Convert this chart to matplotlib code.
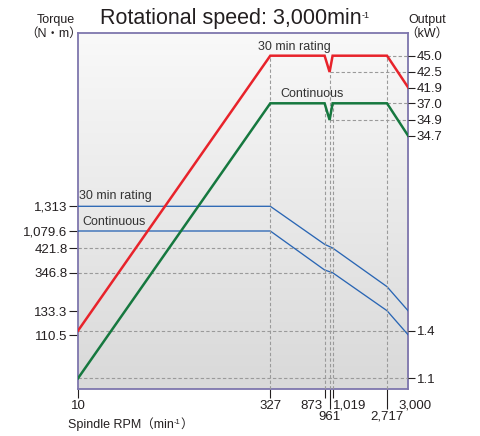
import numpy as np
import matplotlib
matplotlib.use("Agg")
import matplotlib.pyplot as plt
from matplotlib.transforms import ScaledTranslation

plt.rcParams['font.family'] = ['Liberation Sans', 'Noto Sans CJK JP', 'DejaVu Sans']

# ---- data ----
rpm_major = [10, 327, 873, 1019, 3000]
rpm_major_labels = ['10', '327', '873', '1,019', '3,000']
rpm_minor = [961, 2717]
rpm_minor_labels = ['961', '2,717']

out_rpm = [10, 327, 873, 961, 1019, 2717, 3000]
out_30min = [1.4, 45.0, 45.0, 42.5, 45.0, 45.0, 41.9]
out_cont = [1.1, 37.0, 37.0, 34.9, 37.0, 37.0, 34.7]

trq_rpm = [10, 327, 873, 1019, 2717, 3000]
trq_30min = [1313, 1313, 565, 421.8, 269, 133.3]
trq_cont = [1079.6, 1079.6, 355, 346.8, 135, 110.5]

trq_ticks = [1313, 1079.6, 421.8, 346.8, 133.3, 110.5]
trq_labels = ['1,313', '1,079.6', '421.8', '346.8', '133.3', '110.5']
out_ticks = [45.0, 42.5, 41.9, 37.0, 34.9, 34.7, 1.4, 1.1]
out_labels = ['45.0', '42.5', '41.9', '37.0', '34.9', '34.7', '1.4', '1.1']

# schematic (non-uniform) axis layouts of the original drawing: value -> pixel offset
x_anchor_val = [10, 327, 873, 961, 1019, 2717, 3000]
x_anchor_px = [0, 192.3, 246.6, 251.6, 254.6, 309.0, 330.3]
trq_anchor_val = [100, 110.5, 133.3, 346.8, 421.8, 1079.6, 1313, 2000]
trq_anchor_px = [0, 54.3, 78.3, 116.6, 141.3, 158.3, 183.0, 356]
out_anchor_val = [1.0, 1.1, 1.4, 34.7, 34.9, 37.0, 41.9, 42.5, 45.0, 50.0]
out_anchor_px = [0, 11.0, 58.6, 253.3, 269.3, 286.0, 301.6, 317.3, 333.6, 356]


def interp_scale(vals, px):
    vals = np.asarray(vals, float)
    px = np.asarray(px, float)
    return (lambda v: np.interp(v, vals, px), lambda p: np.interp(p, px, vals))


RED = '#e8232b'
GREEN = '#16783f'
BLUE = '#2a66b4'
FRAME = '#7e76ad'
GRID = '#9a9a9a'
TXT = '#231f20'
W, H = 481, 436

fig = plt.figure(figsize=(W / 100, H / 100), dpi=100)
rect = [78 / W, (H - 389.3) / H, 330.3 / W, 356 / H]

# background gradient
bg = fig.add_axes(rect, zorder=0)
grad = np.linspace(0, 1, 256).reshape(-1, 1)
bg.imshow(grad, aspect='auto', cmap=matplotlib.colors.LinearSegmentedColormap.from_list(
    'g', ['#f9f9f9', '#d9d9d9']), extent=[0, 1, 1, 0])
bg.axis('off')

ax = fig.add_axes(rect, zorder=1)
ax.patch.set_visible(False)
ax.set_xscale('function', functions=interp_scale(x_anchor_val, x_anchor_px))
ax.set_yscale('function', functions=interp_scale(trq_anchor_val, trq_anchor_px))
ax.set_xlim(10, 3000)
ax.set_ylim(100, 2000)

ax2 = ax.twinx()
ax2.set_yscale('function', functions=interp_scale(out_anchor_val, out_anchor_px))
ax2.set_ylim(1.0, 50.0)
ax2.set_xlim(10, 3000)

dash = dict(color=GRID, lw=0.8, ls=(0, (3, 2)), zorder=1)

# vertical guide lines
for r, lvl in zip([327, 873, 961, 1019, 2717], [45.0, 37.0, 42.5, 37.0, 45.0]):
    ax2.plot([r, r], [1.0, lvl], **dash)
# horizontal guide lines (output side)
for lvl, start in zip([45.0, 42.5, 37.0, 34.9, 1.4, 1.1], [2717, 961, 2717, 961, 10, 10]):
    ax2.plot([start, 3000], [lvl, lvl], **dash)
# horizontal guide lines (torque side)
for lvl in [421.8, 346.8]:
    ax.plot([10, 1019], [lvl, lvl], **dash)

ax.plot(trq_rpm, trq_30min, color=BLUE, lw=0.95, zorder=3)
ax.plot(trq_rpm, trq_cont, color=BLUE, lw=0.95, zorder=3)
ax2.plot(out_rpm, out_30min, color=RED, lw=1.8, zorder=4, solid_joinstyle='miter')
ax2.plot(out_rpm, out_cont, color=GREEN, lw=1.8, zorder=4, solid_joinstyle='miter')

for s in ax.spines.values():
    s.set_color(FRAME)
    s.set_linewidth(1.3)
for s in ax2.spines.values():
    s.set_visible(False)

# ticks
ax.set_yticks(trq_ticks, trq_labels)
ax.yaxis.set_minor_locator(matplotlib.ticker.NullLocator())
ax2.set_yticks(out_ticks, out_labels)
ax2.yaxis.set_minor_locator(matplotlib.ticker.NullLocator())
ax.set_xticks(rpm_major, rpm_major_labels)
ax.set_xticks(rpm_minor, rpm_minor_labels, minor=True)

ax.tick_params(axis='y', direction='out', length=6.5, width=0.8, pad=1,
               labelsize=9.5, color=TXT, labelcolor=TXT)
ax2.tick_params(axis='y', direction='out', length=5, width=0.8, pad=1,
                labelsize=9.5, color=TXT, labelcolor=TXT)
ax.tick_params(axis='x', which='major', direction='out', length=6.5, width=0.8, pad=1,
               labelsize=9.5, color=TXT, labelcolor=TXT)
ax.tick_params(axis='x', which='minor', direction='out', length=14.5, width=0.8, pad=1,
               labelsize=9.5, color=TXT, labelcolor=TXT)
ax.get_xaxis().get_major_ticks()[-1].tick1line.set_visible(False)

xl = ax.get_xticklabels()
xl[2].set_ha('right')
xl[2].set_transform(xl[2].get_transform() + ScaledTranslation(-0.02, 0, fig.dpi_scale_trans))
xl[3].set_ha('left')
xl[4].set_transform(xl[4].get_transform() + ScaledTranslation(0.07, 0, fig.dpi_scale_trans))

# curve labels
lbl = dict(fontsize=9, color='#333333', va='center')
ax.text(0.654, 0.961, '30 min rating', transform=ax.transAxes, ha='center', **lbl)
ax.text(0.708, 0.829, 'Continuous', transform=ax.transAxes, ha='center', **lbl)
ax.text(0.003, 0.543, '30 min rating', transform=ax.transAxes, ha='left', **lbl)
ax.text(0.012, 0.470, 'Continuous', transform=ax.transAxes, ha='left', **lbl)


def text_run(x_px, base_px, pieces):
    # lay out text pieces one after another (for the small raised "-1")
    renderer = fig.canvas.get_renderer()
    for s, size, rise in pieces:
        t = fig.text(x_px / W, 1 - (base_px - rise) / H, s, fontsize=size,
                     ha='left', va='baseline', color=TXT)
        x_px += t.get_window_extent(renderer).width


text_run(100, 24, [('Rotational speed: 3,000min', 15.5, 0), ('-1', 6.5, 6)])
text_run(68, 427.5, [('Spindle RPM（min', 9, 0), ('-1', 5.5, 3.5), ('）', 9, 0)])

fig.text(56 / W, 1 - 20 / H, 'Torque', ha='center', va='center', fontsize=9, color=TXT)
fig.text(54 / W, 1 - 34 / H, '（N・m）', ha='center', va='center', fontsize=9, color=TXT)
fig.text(427 / W, 1 - 20 / H, 'Output', ha='center', va='center', fontsize=9, color=TXT)
fig.text(427 / W, 1 - 34 / H, '（kW）', ha='center', va='center', fontsize=9, color=TXT)

fig.savefig('out.png', dpi=100)
